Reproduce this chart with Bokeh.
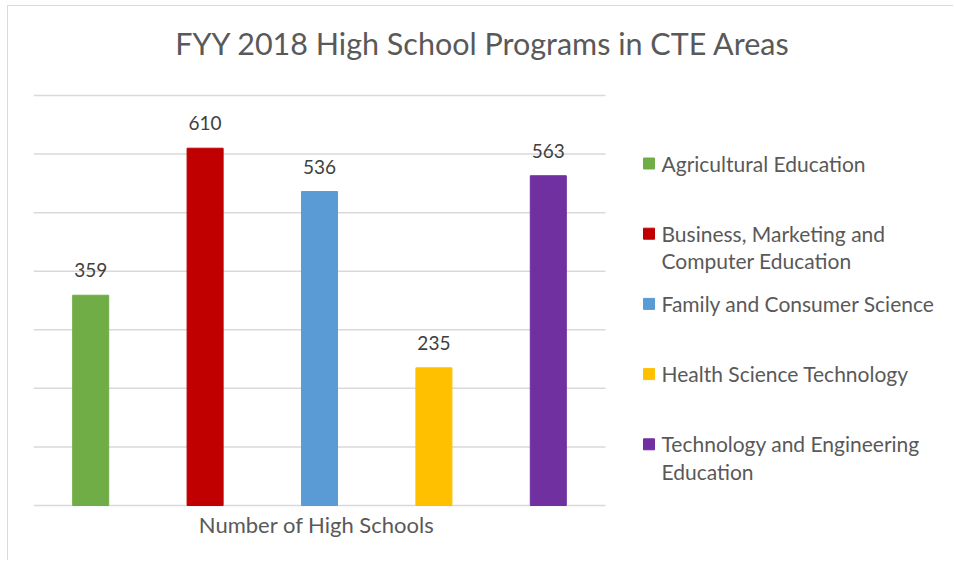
import textwrap
from bokeh.plotting import figure
from bokeh.models import ColumnDataSource, Range1d
from bokeh.core.properties import value
from bokeh.embed import file_html
from bokeh.resources import INLINE

title_text = "FYY 2018  High School Programs in CTE Areas"
axis_label = "Number  of High Schools"
categories = [
    "Agricultural Education",
    "Business, Marketing and Computer Education",
    "Family and Consumer Science",
    "Health Science Technology",
    "Technology and Engineering Education",
]
values = [359, 610, 536, 235, 563]
colors = ["#70AD47", "#C00000", "#5B9BD5", "#FFC000", "#7030A0"]
y_ticks = [0, 100, 200, 300, 400, 500, 600, 700]

FONT = "Lato"
TXT = "#595959"
GRID = "#d9d9d9"

n = len(categories)
BAR_PX = 572                 # pixel width of the bar area
PLOT_PX = 410                # pixel height of the gridded area
TOP_PX, BOTTOM_PX = 89, 41   # space above / below the gridded area inside the frame
FRAME_W = 920
FRAME_H = TOP_PX + PLOT_PX + BOTTOM_PX
px_x = BAR_PX / n                    # pixels per category
upp = y_ticks[-1] / PLOT_PX          # value units per pixel
x_max = FRAME_W / px_x
y_top = y_ticks[-1] + TOP_PX * upp
y_min = -BOTTOM_PX * upp

src = ColumnDataSource(dict(
    x=[i + 0.5 for i in range(n)],
    top=values,
    color=colors,
    label=[str(v) for v in values],
))

p = figure(frame_width=FRAME_W, frame_height=FRAME_H, output_backend="svg", toolbar_location=None,
           x_range=Range1d(0, x_max), y_range=Range1d(y_min, y_top),
           min_border_left=25, min_border_right=0, min_border_top=0, min_border_bottom=14,
           styles={"margin-left": "7px", "margin-top": "5px",
                   "border-left": "1px solid #d9d9d9", "border-top": "1px solid #d9d9d9"})
p.outline_line_color = None
p.background_fill_color = "white"
p.border_fill_color = "white"
p.axis.visible = False
p.grid.visible = False

# chart title
p.text(x=[(486.5 - 33) / px_x], y=[y_ticks[-1] + 53 * upp], text=[title_text],
       text_align="center", text_baseline="middle", text_font_size="30.5px",
       text_color=TXT, text_font=value(FONT))

# horizontal gridlines over the bar area
p.segment(x0=[0] * len(y_ticks), x1=[n] * len(y_ticks), y0=y_ticks, y1=y_ticks,
          line_color=GRID, line_width=1.5)

p.vbar(x="x", top="top", width=0.315, bottom=0, color="color", source=src)
p.text(x="x", y="top", text="label", source=src, text_align="center",
       text_baseline="alphabetic", y_offset=-25, text_font_size="19px",
       text_color="#404040", text_font=value(FONT))

# category axis title
p.text(x=[n / 2], y=[0], text=[axis_label], text_align="center", text_baseline="middle",
       y_offset=19, text_font_size="22px", text_color=TXT, text_font=value(FONT))

# legend
leg_y = [(PLOT_PX - (68 + 70.2 * i)) * upp for i in range(n)]
leg_sq_x = [n + 43.5 / px_x] * n
leg_tx_x = [n + 56 / px_x] * n
leg_src = ColumnDataSource(dict(
    xs=leg_sq_x, xt=leg_tx_x, y=leg_y, color=colors,
    label=[textwrap.fill(c, 27) for c in categories],
))
p.scatter(x="xs", y="y", marker="square", size=11, color="color", source=leg_src)
p.text(x="xt", y="y", text="label", source=leg_src, text_align="left", text_baseline="top",
       y_offset=-13, text_font_size="21px", text_line_height=1.11, text_color=TXT,
       text_font=value(FONT))

open("out.html", "w").write(file_html(p, INLINE))
